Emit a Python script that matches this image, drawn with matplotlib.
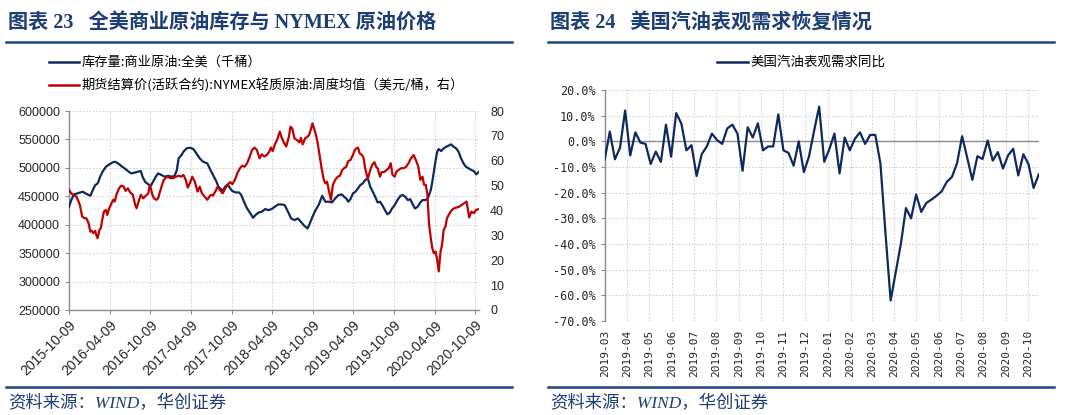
import matplotlib
matplotlib.use("Agg")
import matplotlib.pyplot as plt
from matplotlib.lines import Line2D
from matplotlib.ticker import FuncFormatter, MultipleLocator
import pandas as pd

# ---------------- data: chart 23 ----------------
start_date = "2015-10-09"
stock_day_offsets = [
    0, 10, 22, 37, 51, 63, 74, 84, 96, 107, 118, 129, 140, 151, 166, 181, 196, 206, 221, 235,
    250, 265, 279, 294, 309, 323, 331, 342, 357, 368, 378, 390, 401, 416, 431, 446, 460, 475, 485, 493,
    504, 515, 529, 544, 559, 573, 588, 603, 622,
    640, 652, 662, 672, 681, 691, 702, 713, 725, 735, 750, 765, 775, 787, 801, 816, 828, 838, 853,
    867, 882, 897, 911, 926, 941, 955, 970, 985, 999, 1014, 1029, 1043, 1058, 1073, 1083, 1095, 1109,
    1124, 1139, 1153, 1168, 1183, 1197, 1212, 1227,
    1237, 1247, 1256, 1266, 1277, 1288, 1300, 1310, 1321, 1332, 1344, 1355, 1365, 1377, 1388, 1399,
    1409, 1421, 1432, 1443, 1453, 1465, 1477, 1491, 1502, 1512, 1524, 1535, 1546, 1556, 1568, 1580,
    1590, 1600, 1612, 1619, 1627, 1634, 1641, 1649, 1656, 1663, 1674, 1685, 1697, 1707, 1718, 1730,
    1741, 1752, 1762, 1774, 1785, 1797, 1810, 1821, 1832, 1844,
]
stock_values = [
    431600, 443300, 453300, 455000, 456800, 457900, 455000, 453300, 450900, 460900, 469700, 472600,
    484400, 493200, 502000, 506100, 509600, 510800, 507900, 503200, 499100, 494400, 490300, 491400,
    493200, 494400, 484400, 475600, 470900, 468500, 475600, 484400, 490300, 487300, 484400, 486100,
    484400, 486100, 496100, 516700, 521400, 528400, 534300, 535400, 533100, 525500, 516700, 510800,
    507900,
    493200, 484400, 476800, 466800, 463800, 459100, 466800, 470900, 463800, 459100, 456800, 456800,
    452100, 440400, 428600, 419800, 412200, 416800, 421600, 422800, 427500, 425700, 427500, 431600,
    435700, 435700, 434500, 422800, 411000, 408100, 411000, 405200, 398100, 393400, 402200, 413900,
    425700, 435700, 450900, 440400, 440400, 439200, 446200, 452100, 453300,
    449200, 446200, 440400, 445000, 455000, 457900, 463800, 469700, 472600, 478500, 481400, 466800,
    459100, 449200, 439200, 440400, 434500, 425700, 418100, 421600, 428600, 434500, 443300, 450900,
    452100, 449200, 443300, 445000, 435700, 428600, 431600, 439200, 443300, 443300, 445000, 452100,
    460900, 475600, 493200, 513700, 528400, 533100, 529600, 534300, 537200, 539000, 541300, 537200,
    534300, 528400, 517800, 507900, 502000, 499100, 496100, 494400, 488500, 493200,
]
price_day_offsets = [
    0, 10, 22, 34, 49, 59, 69, 78, 88, 96, 103, 110, 118, 125, 129, 137, 143, 151, 157, 166,
    172, 181, 191, 199, 206, 213, 225, 235, 246, 254, 265, 275, 287, 298, 304, 313, 323, 334, 346, 357,
    363, 368, 375, 382, 393, 401, 407, 416, 426, 441, 456, 468, 481, 495, 504, 515, 525, 534, 544, 554,
    566, 578, 588, 598, 610, 622,
    637, 647, 658, 669, 681, 691, 702, 713, 725, 735, 746, 757, 769, 779, 790, 801, 813, 823, 834,
    845, 857, 867, 878, 889, 901, 908, 916, 926, 936, 948, 955, 966, 977, 989, 996, 1004, 1014, 1024,
    1036, 1043, 1051, 1062, 1073, 1080, 1087, 1095, 1102, 1109, 1117, 1127, 1136, 1146, 1153, 1161,
    1168, 1178, 1187, 1197, 1209, 1219, 1229,
    1237, 1247, 1256, 1266, 1277, 1285, 1293, 1300, 1307, 1318, 1325, 1332, 1344, 1355, 1365, 1374,
    1381, 1388, 1399, 1406, 1418, 1428, 1438, 1447, 1455, 1465, 1472, 1482, 1494, 1506, 1516, 1527,
    1538, 1550, 1560, 1571, 1580, 1590, 1597, 1605, 1612, 1619, 1627, 1634, 1641, 1649, 1656, 1663,
    1671, 1678, 1685, 1693, 1700, 1712, 1722, 1732, 1744, 1756, 1766, 1777, 1788, 1800, 1810, 1821,
    1830, 1844,
]
price_values = [
    48.3, 46.9, 46.0, 45.6, 42.2, 37.6, 36.9, 36.9, 34.9, 31.5, 31.8, 30.9, 31.8, 29.5, 28.9, 32.2,
    32.9, 36.9, 39.6, 40.2, 38.2, 40.9, 42.9, 44.3, 43.6, 46.3, 48.9, 50.0, 49.6, 47.9, 48.9, 47.3,
    46.3, 42.2, 40.9, 43.6, 46.3, 44.9, 46.0, 46.9, 50.3, 48.9, 46.3, 44.9, 44.3, 44.9, 46.9, 49.6,
    52.3, 53.6, 53.0, 53.0, 53.6, 54.0, 53.6, 54.3, 52.3, 49.2, 51.0, 53.6, 51.6, 47.6, 49.6, 46.9,
    45.6, 44.3,
    46.3, 46.0, 47.6, 49.6, 47.9, 46.9, 48.7, 50.3, 51.4, 50.6, 52.3, 55.0, 57.0, 58.0, 57.6, 59.0,
    61.7, 64.3, 65.3, 64.3, 61.0, 62.6, 61.7, 62.3, 63.7, 65.3, 63.9, 66.6, 68.4, 71.7, 69.7, 67.4,
    65.7, 69.7, 73.7, 73.0, 69.0, 68.4, 67.4, 69.2, 66.6, 69.0, 69.7, 70.4, 72.4, 75.0, 73.0, 71.0,
    67.7, 62.3, 57.0, 52.3, 50.9, 51.6, 48.3, 44.3, 50.3, 52.3, 53.6, 54.0, 56.3,
    57.0, 57.6, 59.9, 60.3, 62.3, 64.3, 65.0, 65.3, 63.0, 62.3, 61.0, 57.0, 52.7, 56.3, 58.6, 59.4,
    57.6, 57.0, 53.6, 55.4, 55.5, 56.3, 57.0, 59.0, 54.3, 53.6, 55.5, 56.3, 57.0, 57.0, 57.6, 59.0,
    61.0, 62.3, 60.3, 57.6, 52.3, 53.6, 50.3, 50.3, 46.3, 34.9, 28.9, 24.8, 22.8, 23.5, 20.2, 15.5,
    23.5, 26.2, 32.2, 33.5, 36.9, 38.9, 40.2, 40.9, 41.2, 41.6, 42.2, 42.9, 43.6, 37.2, 39.6, 38.9,
    40.2, 40.6,
]
left_xtick_labels = ["2015-10-09", "2016-04-09", "2016-10-09", "2017-04-09", "2017-10-09",
                     "2018-04-09", "2018-10-09", "2019-04-09", "2019-10-09", "2020-04-09",
                     "2020-10-09"]
stock_label = "库存量:商业原油:全美（千桶）"
price_label = "期货结算价(活跃合约):NYMEX轻质原油:周度均值（美元/桶，右）"
title_left = "图表 23   全美商业原油库存与 NYMEX 原油价格"

# ---------------- data: chart 24 ----------------
demand_start = "2019-03-01"
demand_yoy = [
    -7.1, 3.8, -7.0, -2.5, 12.0, -5.5, 3.5, -0.5, -1.0, -8.8, -4.0, -8.0, 6.5, -6.0, 11.0, 7.0,
    -3.5, -1.5, -13.5, -5.0, -2.0, 3.0, 0.5, -1.0, 5.0, 6.5, 3.0, -11.5, 5.5, 1.5, 7.0, -3.5,
    -2.0, -2.0, 10.5, -3.5, -4.5, -9.5, 0.0, -12.0, -6.0, 4.0, 13.5, -8.0, -3.0, 3.0, -12.5, 1.5,
    -3.5, 1.0, 3.5, -1.0, 2.5, 2.5, -8.6, -36.0, -62.0, -51.0, -40.0, -26.0, -30.0, -20.7, -27.5,
    -24.0, -22.7, -21.2, -19.5, -15.8, -13.9, -8.6, 2.0, -6.4, -15.0, -5.8, -6.9, 0.3, -7.5, -4.2,
    -10.6, -5.5, -2.9, -13.3, -5.0, -8.9, -18.2, -12.9,
]
right_xtick_labels = ["2019-03", "2019-04", "2019-05", "2019-06", "2019-07", "2019-08", "2019-09",
                      "2019-10", "2019-11", "2019-12", "2020-01", "2020-02", "2020-03", "2020-04",
                      "2020-05", "2020-06", "2020-07", "2020-08", "2020-09", "2020-10"]
demand_label = "美国汽油表观需求同比"
title_right = "图表 24   美国汽油表观需求恢复情况"
source_text = "资料来源：WIND，华创证券"

# ---------------- styling ----------------
NAVY = "#0d2a5e"
RED = "#c00000"
TITLE_C = "#1b3f73"
RULE_C = "#1d4485"
GRID_C = "#d4d4d4"
AX_C = "#8c8c8c"
TXT_C = "#262626"
CJK = ["Noto Sans CJK SC", "DejaVu Sans"]
SERIF_CJK = ["Liberation Serif", "Noto Sans CJK SC"]

W, H = 1067, 415
fig = plt.figure(figsize=(W / 100, H / 100), dpi=100)


def fx(px):
    return px / W


def fy(py):
    return 1 - py / H


def rect(x0, y0, x1, y1):
    return [fx(x0), fy(y1), (x1 - x0) / W, (y1 - y0) / H]


# header/footer decorations
for x0, x1, tx, title in [(6, 512, 8, title_left), (548, 1054, 550, title_right)]:
    fig.text(fx(tx), fy(23), title, family=SERIF_CJK, fontsize=14.5, fontweight="bold",
             color=TITLE_C, va="center", ha="left")
    fig.add_artist(Line2D([fx(x0), fx(x1)], [fy(42), fy(42)], color=RULE_C, lw=1.8))
    fig.add_artist(Line2D([fx(x0), fx(x1)], [fy(386.5), fy(386.5)], color=RULE_C, lw=1.8))
    fig.text(fx(tx), fy(404), source_text, family=SERIF_CJK, fontsize=12.5, style="italic",
             color=TITLE_C, va="center", ha="left")

# ---------------- left chart ----------------
t0 = pd.Timestamp(start_date)
stock_dates = t0 + pd.to_timedelta(stock_day_offsets, unit="D")
price_dates = t0 + pd.to_timedelta(price_day_offsets, unit="D")

ax1 = fig.add_axes(rect(69, 111, 479, 310))
ax2 = ax1.twinx()
ax1.plot(stock_dates, stock_values, color=NAVY, lw=1.6, zorder=3)
ax2.plot(price_dates, price_values, color=RED, lw=1.6, zorder=3)

ax1.set_xlim(t0, max(stock_dates[-1], price_dates[-1]))
ax1.set_ylim(250000, 600000)
ax2.set_ylim(0, 80)
ax1.yaxis.set_major_locator(MultipleLocator(50000))
ax2.yaxis.set_major_locator(MultipleLocator(10))
ax1.yaxis.set_major_formatter(FuncFormatter(lambda v, p: f"{v:.0f}"))
ax2.yaxis.set_major_formatter(FuncFormatter(lambda v, p: f"{v:.0f}"))
ax1.set_xticks(pd.to_datetime(left_xtick_labels))
ax1.set_xticklabels(left_xtick_labels, rotation=45, ha="right", rotation_mode="anchor")
ax1.grid(True, color=GRID_C, linestyle=(0, (1.5, 1.5)), lw=0.8)
ax1.set_axisbelow(True)
for s in ["top", "right"]:
    ax1.spines[s].set_visible(False)
for s in ["top", "right", "left", "bottom"]:
    ax2.spines[s].set_visible(False)
for s in ["left", "bottom"]:
    ax1.spines[s].set_color(AX_C)
    ax1.spines[s].set_linewidth(1.0)
ax1.tick_params(axis="both", colors=AX_C, labelcolor=TXT_C, length=3, width=0.8,
                labelsize=9)
ax1.tick_params(axis="x", pad=3, labelsize=10)
ax2.tick_params(axis="y", length=0, labelcolor=TXT_C, labelsize=9, pad=8)
for lab in ax1.get_xticklabels() + ax1.get_yticklabels() + ax2.get_yticklabels():
    lab.set_family(["Liberation Sans", "DejaVu Sans"])

# legend (left)
fig.add_artist(Line2D([fx(49), fx(79)], [fy(62), fy(62)], color=NAVY, lw=1.8))
fig.add_artist(Line2D([fx(49), fx(79)], [fy(85.5), fy(85.5)], color=RED, lw=1.8))
fig.text(fx(82), fy(62), stock_label, family=CJK, fontsize=9.5, color="black", va="center")
fig.text(fx(82), fy(85.5), price_label, family=CJK, fontsize=9.5, color="black", va="center")

# ---------------- right chart ----------------
demand_dates = pd.date_range(demand_start, periods=len(demand_yoy), freq="7D")
ax3 = fig.add_axes(rect(604.7, 90, 1038.7, 321))
ax3.plot(demand_dates, demand_yoy, color=NAVY, lw=1.6, zorder=3)
ax3.axhline(0, color=AX_C, lw=1.0, zorder=2)
ax3.set_xlim(demand_dates[0], demand_dates[-1])
ax3.set_ylim(-70, 20)
ax3.yaxis.set_major_locator(MultipleLocator(10))
ax3.yaxis.set_major_formatter(FuncFormatter(lambda v, p: f"{v:.1f}%"))
right_tick_dates = pd.to_datetime([s + "-01" for s in right_xtick_labels])
ax3.set_xticks(right_tick_dates)
ax3.set_xticklabels(right_xtick_labels, rotation=90, ha="center", va="top")
ax3.grid(True, color=GRID_C, linestyle=(0, (1.5, 1.5)), lw=0.8)
ax3.set_axisbelow(True)
for s in ["top", "right", "bottom"]:
    ax3.spines[s].set_visible(False)
ax3.spines["left"].set_color(AX_C)
ax3.spines["left"].set_linewidth(1.0)
ax3.tick_params(axis="y", colors=AX_C, labelcolor=TXT_C, length=3, width=0.8, labelsize=8.5)
ax3.tick_params(axis="x", length=0, labelcolor=TXT_C, labelsize=8, pad=6)
for lab in ax3.get_xticklabels() + ax3.get_yticklabels():
    lab.set_family(["DejaVu Sans Mono"])

fig.add_artist(Line2D([fx(717), fx(748)], [fy(62), fy(62)], color=NAVY, lw=1.8))
fig.text(fx(750.5), fy(62), demand_label, family=CJK, fontsize=9.7, color="black", va="center")

fig.savefig("out.png", dpi=100)
